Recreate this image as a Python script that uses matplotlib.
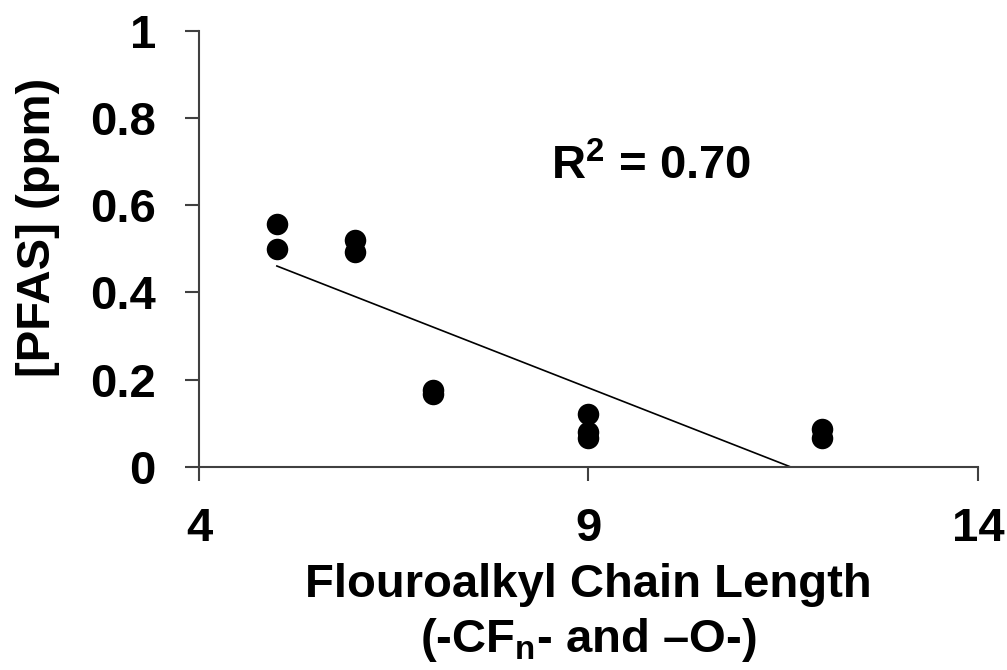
import matplotlib
matplotlib.use("Agg")
import matplotlib.pyplot as plt
import numpy as np

# chain length (-CFn- and -O- units) vs measured concentration
chain_length = [5, 5, 6, 6, 7, 7, 9, 9, 9, 12, 12]
pfas_ppm     = [0.557, 0.499, 0.520, 0.493, 0.175, 0.166, 0.122, 0.080, 0.065, 0.087, 0.066]

x_ticks = [4, 9, 14]
y_ticks = [0, 0.2, 0.4, 0.6, 0.8, 1]
y_tick_labels = ["0", "0.2", "0.4", "0.6", "0.8", "1"]

plt.rcParams["font.family"] = "Liberation Sans"
plt.rcParams["font.weight"] = "bold"
plt.rcParams["mathtext.fontset"] = "custom"
plt.rcParams["mathtext.rm"] = "Liberation Sans:bold"
plt.rcParams["mathtext.it"] = "Liberation Sans:bold"
plt.rcParams["mathtext.bf"] = "Liberation Sans:bold"

x = np.array(chain_length, dtype=float)
y = np.array(pfas_ppm)

# linear trendline + R^2
slope, intercept = np.polyfit(x, y, 1)
pred = slope * x + intercept
r2 = 1 - np.sum((y - pred) ** 2) / np.sum((y - y.mean()) ** 2)

fig = plt.figure(figsize=(10.07, 6.70), dpi=100)
ax = fig.add_axes([0.1976, 0.3034, 0.7736, 0.6503])

ax.scatter(x, y, s=240, color="black", zorder=3, linewidths=0)

x_fit = np.linspace(x.min(), x.max(), 200)
ax.plot(x_fit, slope * x_fit + intercept, color="black", lw=1.2, zorder=2)

ax.set_xlim(4, 14)
ax.set_ylim(0, 1)
ax.set_xticks(x_ticks)
ax.set_yticks(y_ticks)
ax.set_yticklabels(y_tick_labels)

for side in ["top", "right"]:
    ax.spines[side].set_visible(False)
for side in ["left", "bottom"]:
    ax.spines[side].set_color("#404040")
    ax.spines[side].set_linewidth(1.5)

ax.tick_params(axis="both", direction="out", length=10, width=1.5, color="#404040",
               labelsize=34)
ax.tick_params(axis="y", pad=21)
ax.tick_params(axis="x", pad=19)

ax.set_ylabel("[PFAS] (ppm)", fontsize=34, fontweight="bold")
ax.yaxis.set_label_coords(-0.178, 0.549)

ax.set_xlabel("Flouroalkyl Chain Length\n(-CF$_\\mathrm{n}$- and \u2013O-)",
              fontsize=34, fontweight="bold", linespacing=1.25)
ax.xaxis.set_label_coords(0.5, -0.222)
ax.xaxis.label.set_va("top")

ax.text(9.8, 0.688, f"R$^\\mathrm{{2}}$ = {r2:.2f}", fontsize=34, fontweight="bold",
        ha="center", va="center")

fig.savefig("out.png", dpi=100)
